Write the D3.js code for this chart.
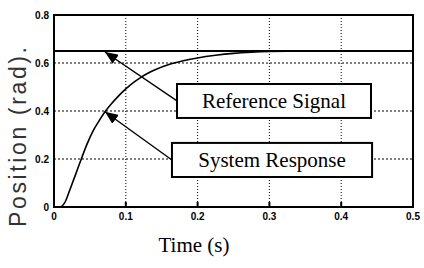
<!DOCTYPE html>
<html>
<head>
<meta charset="utf-8">
<script src="https://cdn.jsdelivr.net/npm/d3@7"></script>
<style>
  body { margin: 0; background: #fff; }
  svg { display: block; }
</style>
</head>
<body>
<div id="chart-area"></div>
<script>
// chart data
const time = [0, 0.008, 0.012, 0.016, 0.022, 0.03, 0.038, 0.046, 0.055, 0.064, 0.071, 0.08, 0.09, 0.1, 0.11, 0.12, 0.13, 0.14, 0.16, 0.18, 0.2, 0.225, 0.25, 0.275, 0.3, 0.35, 0.4, 0.45, 0.5];
const response = [0, 0, 0.006, 0.024, 0.071, 0.135, 0.2, 0.262, 0.32, 0.365, 0.397, 0.43, 0.463, 0.492, 0.517, 0.538, 0.556, 0.571, 0.594, 0.609, 0.621, 0.632, 0.64, 0.645, 0.648, 0.65, 0.65, 0.65, 0.651];
const referenceValue = 0.65;
const xTicks = [0, 0.1, 0.2, 0.3, 0.4, 0.5];
const yTicks = [0, 0.2, 0.4, 0.6, 0.8];

// annotations: box corners and arrow tips in data units
const labels = [
    {text: "Reference Signal", x0: 0.1713, x1: 0.4415, y0: 0.5125, y1: 0.371, tip: [0.071, 0.646], tail: [0.1713, 0.442]},
    {text: "System Response", x0: 0.1643, x1: 0.443, y0: 0.267, y1: 0.125, tip: [0.071, 0.397], tail: [0.1643, 0.196]}
];

let W = 424, H = 268;
let margin = {top: 15, right: 11, bottom: 61, left: 54};
let width = W - margin.left - margin.right;
let height = H - margin.top - margin.bottom;

const svg = d3.select("#chart-area").append("svg")
    .attr("width", W)
    .attr("height", H);

const defs = svg.append("defs");
defs.append("marker")
    .attr("id", "head")
    .attr("markerUnits", "userSpaceOnUse")
    .attr("viewBox", "0 0 13 11")
    .attr("refX", 13).attr("refY", 5.5)
    .attr("markerWidth", 13).attr("markerHeight", 11)
    .attr("orient", "auto")
    .append("path")
    .attr("d", "M0,0 L13,5.5 L0,11 Z")
    .attr("fill", "#000");

const g = svg.append("g")
    .attr("transform", "translate(" + margin.left + "," + margin.top + ")");

const x = d3.scaleLinear().domain([0, 0.5]).range([0, width]);
const y = d3.scaleLinear().domain([0, 0.8]).range([height, 0]);

// grid
g.selectAll(".vgrid")
    .data(xTicks.slice(1, -1))
    .enter().append("line")
    .attr("x1", d => x(d)).attr("x2", d => x(d))
    .attr("y1", 0).attr("y2", height)
    .attr("stroke", "#000")
    .attr("stroke-width", 1)
    .attr("stroke-dasharray", "1,2");

g.selectAll(".hgrid")
    .data(yTicks.slice(1, -1))
    .enter().append("line")
    .attr("x1", 0).attr("x2", width)
    .attr("y1", d => y(d)).attr("y2", d => y(d))
    .attr("stroke", "#000")
    .attr("stroke-width", 1)
    .attr("stroke-dasharray", "2,2");

// tick marks (inward)
g.selectAll(".xt")
    .data(xTicks.slice(1, -1))
    .enter().append("line")
    .attr("x1", d => x(d)).attr("x2", d => x(d))
    .attr("y1", height).attr("y2", height - 5)
    .attr("stroke", "#000").attr("stroke-width", 2);

// tick labels
g.selectAll(".xl")
    .data(xTicks)
    .enter().append("text")
    .attr("x", d => x(d))
    .attr("y", height + 13)
    .attr("text-anchor", "middle")
    .style("font-family", "Liberation Sans, Arial, sans-serif")
    .style("font-size", "10px")
    .style("font-weight", "bold")
    .text(d => d3.format("~g")(d));

g.selectAll(".yl")
    .data(yTicks)
    .enter().append("text")
    .attr("x", -5)
    .attr("y", d => y(d) + 3.5)
    .attr("text-anchor", "end")
    .style("font-family", "Liberation Sans, Arial, sans-serif")
    .style("font-size", "10px")
    .style("font-weight", "bold")
    .text(d => d3.format("~g")(d));

// reference signal
g.append("line")
    .attr("x1", x(0)).attr("x2", x(0.5))
    .attr("y1", y(referenceValue)).attr("y2", y(referenceValue))
    .attr("stroke", "#000")
    .attr("stroke-width", 2);

// system response
const line = d3.line()
    .x((d, i) => x(time[i]))
    .y(d => y(d))
    .curve(d3.curveMonotoneX);

g.append("path")
    .datum(response)
    .attr("d", line)
    .attr("fill", "none")
    .attr("stroke", "#000")
    .attr("stroke-width", 1.6);

// frame
g.append("rect")
    .attr("width", width).attr("height", height)
    .attr("fill", "none")
    .attr("stroke", "#000")
    .attr("stroke-width", 2);

// annotation arrows and boxes
labels.forEach(l => {
    g.append("line")
        .attr("x1", x(l.tail[0])).attr("y1", y(l.tail[1]))
        .attr("x2", x(l.tip[0])).attr("y2", y(l.tip[1]))
        .attr("stroke", "#000")
        .attr("stroke-width", 1.4)
        .attr("marker-end", "url(#head)");

    g.append("rect")
        .attr("x", x(l.x0)).attr("y", y(l.y0))
        .attr("width", x(l.x1) - x(l.x0))
        .attr("height", y(l.y1) - y(l.y0))
        .attr("fill", "#fff")
        .attr("stroke", "#000")
        .attr("stroke-width", 2);

    g.append("text")
        .attr("x", (x(l.x0) + x(l.x1)) / 2)
        .attr("y", (y(l.y0) + y(l.y1)) / 2 + 7)
        .attr("text-anchor", "middle")
        .style("font-family", "Liberation Serif, Times New Roman, serif")
        .style("font-size", "21px")
        .text(l.text);
});

// axis titles
svg.append("text")
    .attr("transform", "translate(26,137) rotate(-90)")
    .attr("text-anchor", "middle")
    .attr("textLength", 180)
    .attr("lengthAdjust", "spacing")
    .style("font-family", "Liberation Sans, Arial, sans-serif")
    .style("font-size", "23px")
    .style("fill", "#333")
    .text("Position (rad).");

svg.append("text")
    .attr("x", 194)
    .attr("y", 252)
    .attr("text-anchor", "middle")
    .style("font-family", "Liberation Serif, Times New Roman, serif")
    .style("font-size", "21px")
    .text("Time (s)");
</script>
</body>
</html>
